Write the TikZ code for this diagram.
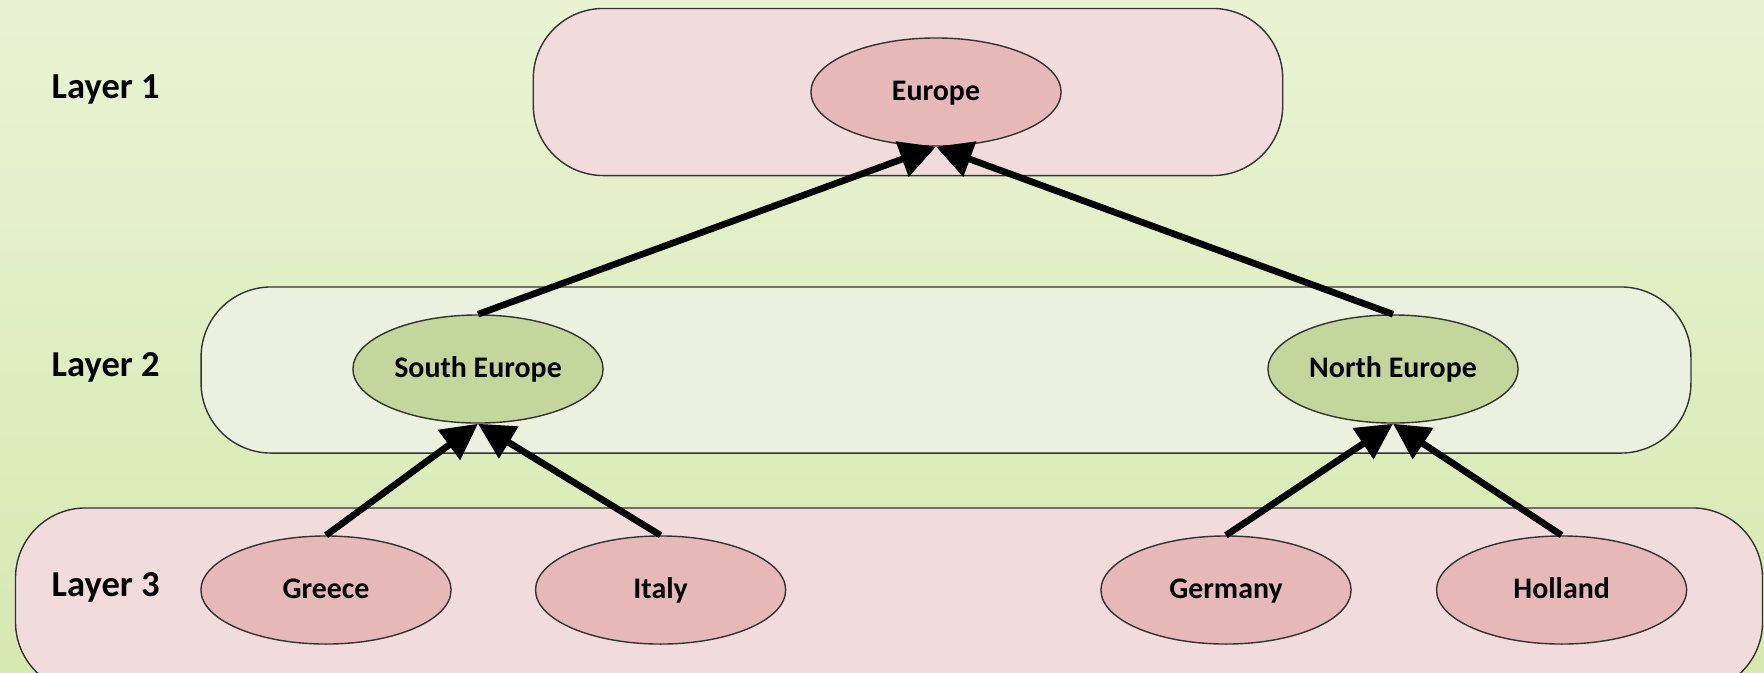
\documentclass[tikz,border=0pt]{standalone}
\usepackage{fontspec}
\setmainfont{Carlito}
\usepackage{xcolor}
\usepackage{tikz}
\usetikzlibrary{shapes.geometric}
\usetikzlibrary{arrows.meta}
\usetikzlibrary{positioning}

\definecolor{bgtop}{RGB}{233,243,212}
\definecolor{bgbottom}{RGB}{214,233,176}
\definecolor{boxpink}{RGB}{242,220,219}
\definecolor{boxgreen}{RGB}{235,241,222}
\definecolor{nodepink}{RGB}{230,185,184}
\definecolor{nodegreen}{RGB}{195,214,155}

\begin{document}
\begin{tikzpicture}[x=0.01cm, y=-0.01cm]

% Custom styles for layers, regions and links
    \tikzstyle{layerbox} = [draw=black!80, line width=0.4pt, rounded corners=0.7cm, inner sep=0pt]
    \tikzstyle{region} = [ellipse, draw=black!80, line width=0.4pt, minimum width=2.5cm, minimum height=1.08cm,
        inner sep=0pt, text height=0.7em, text depth=0.2em, font=\fontsize{8.5}{10}\selectfont\bfseries]
    \tikzstyle{layername} = [anchor=west, inner sep=0pt, text height=0.7em, text depth=0.2em,
        font=\fontsize{10.4}{12}\selectfont\bfseries]
    \tikzstyle{link} = [line width=1.9pt, -{Triangle[length=0.36cm, width=0.36cm]}]

    % Background
    \useasboundingbox (0,0) rectangle (1764,672);
    \shade[top color=bgtop, bottom color=bgbottom] (0,0) rectangle (1764,672);

    % Layers
    \node[layerbox, fill=boxpink, minimum width=7.49cm, minimum height=1.67cm] (layer1) at (908,92) {};
    \node[layerbox, fill=boxgreen, minimum width=14.89cm, minimum height=1.66cm] (layer2) at (946,370) {};
    \node[layerbox, fill=boxpink, minimum width=17.46cm, minimum height=1.84cm] (layer3) at (889,600) {};

    \node[layername] (name1) at (51,90) {Layer 1};
    \node[layername] (name2) at (51,368) {Layer 2};
    \node[layername] (name3) at (51,588) {Layer 3};

    % Define nodes
    \node[region, fill=nodepink] (europe) at (936,92) {Europe};
    \node[region, fill=nodegreen] (south) at (478,369) {South Europe};
    \node[region, fill=nodegreen] (north) at (1393,369) {North Europe};
    \node[region, fill=nodepink] (greece) at (326,590) {Greece};
    \node[region, fill=nodepink, right=0.83cm of greece] (italy) {Italy};
    \node[region, fill=nodepink] (germany) at (1226,590) {Germany};
    \node[region, fill=nodepink, right=0.84cm of germany] (holland) {Holland};

    % Connect nodes
    \draw[link] (south.north) -- (europe.south);
    \draw[link] (north.north) -- (europe.south);
    \draw[link] (greece.north) -- (south.south);
    \draw[link] (italy.north) -- (south.south);
    \draw[link] (germany.north) -- (north.south);
    \draw[link] (holland.north) -- (north.south);

\end{tikzpicture}
\end{document}
